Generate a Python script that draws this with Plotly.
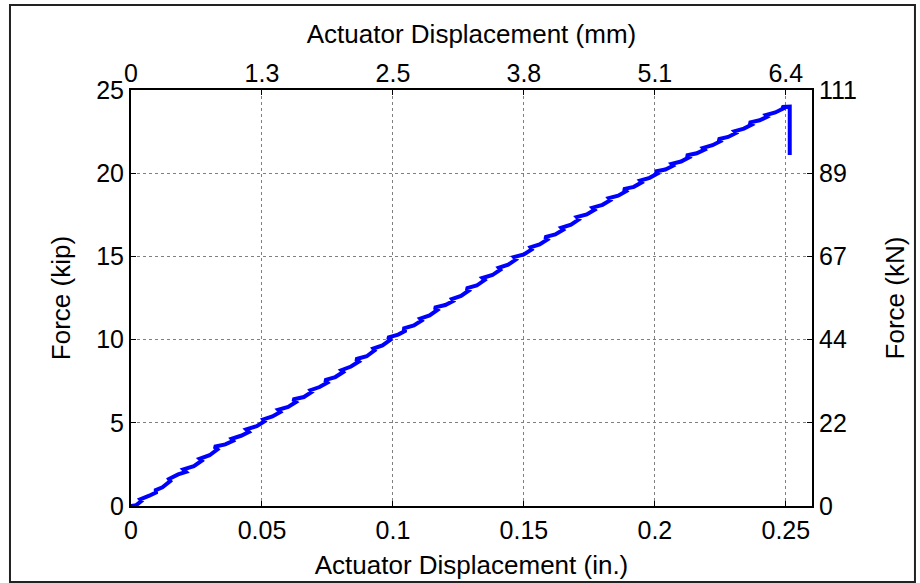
import plotly.graph_objects as go

# Load-displacement record (inches, kips)
disp_in = [
    0.000, 0.002, 0.004, 0.0035, 0.007, 0.010, 0.0090, 0.012, 0.015, 0.0145,
    0.018, 0.021, 0.0200, 0.024, 0.027, 0.0262, 0.030, 0.033, 0.0318, 0.036,
    0.039, 0.0384, 0.042, 0.045, 0.0440, 0.048, 0.051, 0.0505, 0.054, 0.057,
    0.0562, 0.060, 0.063, 0.0618, 0.066, 0.069, 0.0685, 0.072, 0.075, 0.0740,
    0.078, 0.081, 0.0803, 0.084, 0.087, 0.0858, 0.090, 0.093, 0.0925, 0.096,
    0.099, 0.0980, 0.102, 0.105, 0.1038, 0.108, 0.111, 0.1104, 0.114, 0.117,
    0.1158, 0.120, 0.123, 0.1225, 0.126, 0.129, 0.1280, 0.132, 0.135, 0.1342,
    0.138, 0.141, 0.1404, 0.144, 0.147, 0.1462, 0.150, 0.153, 0.1525, 0.156,
    0.159, 0.1580, 0.162, 0.165, 0.1643, 0.168, 0.171, 0.1702, 0.174, 0.177,
    0.1762, 0.180, 0.183, 0.1824, 0.186, 0.189, 0.1880, 0.192, 0.195, 0.1944,
    0.198, 0.201, 0.2002, 0.204, 0.207, 0.2064, 0.210, 0.213, 0.2120, 0.216,
    0.219, 0.2184, 0.222, 0.225, 0.2242, 0.228, 0.231, 0.2304, 0.234, 0.237,
    0.2360, 0.240, 0.243, 0.2424, 0.246, 0.2490, 0.2485, 0.2515, 0.2515,
]
force_kip = [
    0.00, 0.05, 0.30, 0.40, 0.62, 0.85, 0.92, 1.12, 1.50, 1.62,
    1.90, 2.05, 2.20, 2.40, 2.72, 2.84, 3.05, 3.40, 3.56, 3.70,
    3.92, 4.04, 4.22, 4.45, 4.60, 4.80, 5.10, 5.20, 5.38, 5.65,
    5.78, 5.95, 6.25, 6.40, 6.55, 6.85, 6.96, 7.15, 7.42, 7.56,
    7.75, 8.05, 8.16, 8.38, 8.68, 8.82, 9.00, 9.35, 9.46, 9.65,
    9.98, 10.12, 10.30, 10.55, 10.66, 10.85, 11.15, 11.26, 11.45, 11.78,
    11.92, 12.08, 12.32, 12.44, 12.62, 12.95, 13.08, 13.25, 13.58, 13.70,
    13.88, 14.20, 14.32, 14.50, 14.82, 14.96, 15.12, 15.42, 15.54, 15.72,
    16.02, 16.16, 16.32, 16.60, 16.72, 16.90, 17.22, 17.36, 17.52, 17.80,
    17.93, 18.10, 18.38, 18.50, 18.65, 18.92, 19.04, 19.18, 19.45, 19.56,
    19.72, 19.98, 20.10, 20.22, 20.45, 20.56, 20.70, 20.95, 21.06, 21.20,
    21.42, 21.52, 21.68, 21.92, 22.04, 22.18, 22.42, 22.52, 22.68, 22.92,
    23.04, 23.18, 23.40, 23.50, 23.65, 23.88, 23.98, 24.00, 21.10,
]

# Tick positions and labels
x_ticks_in = [0, 0.05, 0.1, 0.15, 0.2, 0.25]
x_labels_in = ["0", "0.05", "0.1", "0.15", "0.2", "0.25"]
x_labels_mm = ["0", "1.3", "2.5", "3.8", "5.1", "6.4"]
y_ticks_kip = [0, 5, 10, 15, 20, 25]
y_labels_kip = ["0", "5", "10", "15", "20", "25"]
y_labels_kn = ["0", "22", "44", "67", "89", "111"]

X_MAX_IN = 0.26
Y_MAX_KIP = 25
IN_TO_MM = 25.4
KIP_TO_KN = 4.448

disp_mm = [d * IN_TO_MM for d in disp_in]
force_kn = [f * KIP_TO_KN for f in force_kip]

FONT = "Liberation Sans, Arial, sans-serif"
TICK_FONT = dict(family=FONT, size=25, color="black")
TITLE_FONT = dict(family=FONT, size=26, color="black")

fig = go.Figure()
fig.add_trace(go.Scatter(
    x=disp_in, y=force_kip, mode="lines",
    line=dict(color="#0000FF", width=4),
    showlegend=False, hoverinfo="x+y",
))
# Same record in SI units drives the top and right axes
fig.add_trace(go.Scatter(
    x=disp_mm, y=force_kn, mode="lines", xaxis="x2", yaxis="y2",
    line=dict(color="rgba(0,0,0,0)", width=0),
    showlegend=False, hoverinfo="skip",
))

common = dict(
    showline=True, linecolor="black", linewidth=2,
    ticks="inside", ticklen=5, tickcolor="black", tickwidth=1,
    zeroline=False, tickfont=TICK_FONT, automargin=False,
)

fig.update_layout(
    width=920, height=583,
    margin=dict(l=131, r=108, t=90, b=77),
    paper_bgcolor="white", plot_bgcolor="white",
    xaxis=dict(
        range=[0, X_MAX_IN], tickmode="array",
        tickvals=x_ticks_in, ticktext=x_labels_in, ticklabelstandoff=1,
        showgrid=True, gridcolor="#808080", griddash="dot", gridwidth=1,
        title=dict(text="Actuator Displacement (in.)", font=TITLE_FONT, standoff=13),
        **common,
    ),
    yaxis=dict(
        range=[0, Y_MAX_KIP], tickmode="array",
        tickvals=y_ticks_kip, ticktext=y_labels_kip,
        showgrid=True, gridcolor="#808080", griddash="dot", gridwidth=1,
        title=dict(text="Force (kip)", font=TITLE_FONT, standoff=18),
        **common,
    ),
    xaxis2=dict(
        range=[0, X_MAX_IN * IN_TO_MM], overlaying="x", side="top",
        tickmode="array", tickvals=[t * IN_TO_MM for t in x_ticks_in],
        ticktext=x_labels_mm, ticklabelstandoff=-4, showgrid=False,
        title=dict(text="Actuator Displacement (mm)", font=TITLE_FONT, standoff=8),
        **common,
    ),
    yaxis2=dict(
        range=[0, Y_MAX_KIP * KIP_TO_KN], overlaying="y", side="right",
        tickmode="array", tickvals=[t * KIP_TO_KN for t in y_ticks_kip],
        ticktext=y_labels_kn, showgrid=False,
        title=dict(text="Force (kN)", font=TITLE_FONT, standoff=30),
        **common,
    ),
    shapes=[dict(
        type="rect", xref="paper", yref="paper",
        x0=-0.1777, x1=1.1512, y0=-0.1827, y1=1.2043,
        line=dict(color="#222222", width=2), fillcolor="rgba(0,0,0,0)",
        layer="below",
    )],
)

fig.write_html("out.html")
